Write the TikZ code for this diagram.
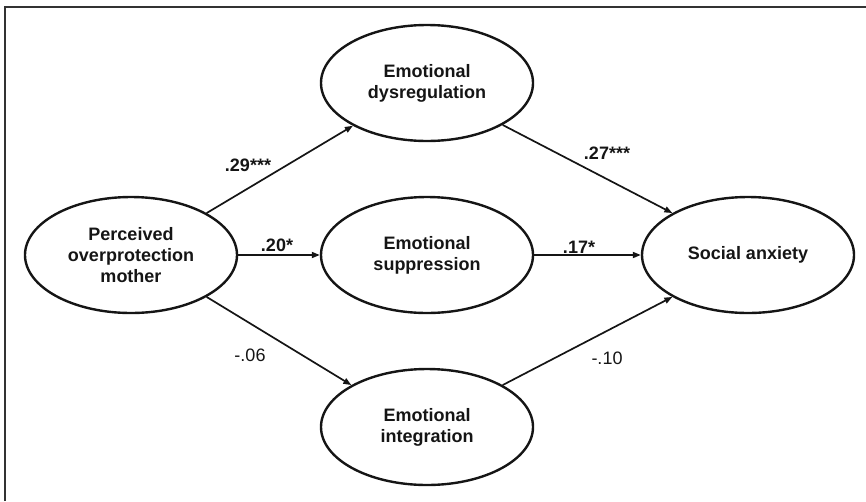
\documentclass[tikz,border=0pt]{standalone}
\usepackage{fontspec}
\setmainfont{Liberation Sans}
\usetikzlibrary{shapes.geometric,arrows.meta}
\definecolor{ink}{HTML}{151515}
\tikzset{
  latent/.style={ellipse, draw=ink, line width=2.4pt, minimum width=212pt, minimum height=116pt,
    inner sep=0pt, align=center, font=\fontsize{18}{21}\selectfont\bfseries, text=ink},
  path/.style={draw=ink, line width=1.7pt, -{Triangle[length=8pt,width=6pt]}},
  coefb/.style={font=\fontsize{18}{21}\selectfont\bfseries, text=ink, inner sep=0pt},
  coefn/.style={font=\fontsize{18}{21}\selectfont, text=ink, inner sep=0pt},
  frameline/.style={draw=black!80, line width=2pt}
}
\begin{document}
\begin{tikzpicture}[x=1pt,y=-1pt]
\useasboundingbox (0,0) rectangle (866,501);
\coordinate (fbl) at (5,501);
\coordinate (ftl) at (5,6.5);
\coordinate (ftr) at (866,6.5);
\draw[frameline] (fbl) -- (ftl) -- (ftr);

\node[latent] (p) at (131,255) {Perceived\\overprotection\\mother};
\node[latent] (dys) at (427,83) {Emotional\\dysregulation};
\node[latent] (sup) at (427,255) {Emotional\\suppression};
\node[latent] (int) at (427,427) {Emotional\\integration};
\node[latent] (soc) at (748,255) {Social anxiety};

\draw[path] (p.29) -- (dys.210);
\draw[path] (p.east) -- (sup.west);
\draw[path] (p.331) -- (int.151);
\draw[path] (dys.331) -- (soc.151);
\draw[path] (sup.east) -- (soc.west);
\draw[path] (int.29) -- (soc.209);

\node[coefb] (l1) at (248,165) {.29***};
\node[coefb] (l2) at (277,245) {.20*};
\node[coefn] (l3) at (250,355) {-.06};
\node[coefb] (l4) at (607,153) {.27***};
\node[coefb] (l5) at (579,247) {.17*};
\node[coefn] (l6) at (607,358) {-.10};
\end{tikzpicture}
\end{document}
